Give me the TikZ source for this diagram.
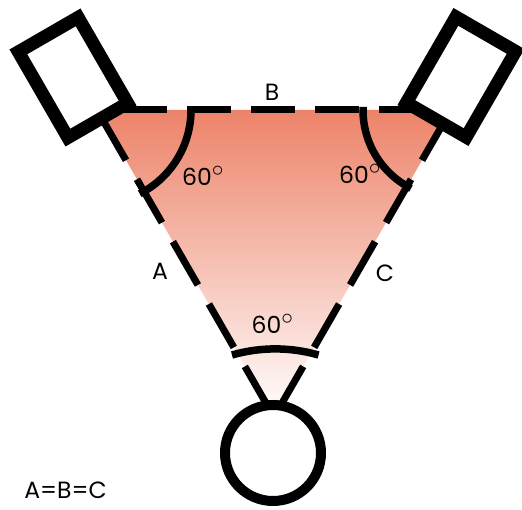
\documentclass[tikz,border=0pt]{standalone}
\usepackage{fontspec}
\setmainfont{Poppins}
\definecolor{warm}{RGB}{237,131,105}
\newcommand{\degsign}{\ensuremath{^{\scalebox{1.35}{$\scriptstyle\circ$}}}}
\begin{document}
\begin{tikzpicture}[
    x=1pt, y=1pt,
    every node/.style={font=\fontsize{23.5}{27}\selectfont, inner sep=0pt},
    side/.style={line width=7pt},
    anglearc/.style={line width=7.5pt},
    speaker/.style={
        draw,
        fill=white,
        line width=13pt,
        minimum width=69pt,
        minimum height=99pt,
    },
    listener/.style={draw, circle, fill=white, line width=10pt, minimum size=96pt}
]

% Canvas
\useasboundingbox (0,0) rectangle (522,510);

% Triangle corners
\coordinate (L) at (97,400);
\coordinate (R) at (451,400);
\coordinate (P) at (274,93);

% --- Shaded listening area ---
\shade[top color=warm, bottom color=white] (L) -- (R) -- (P) -- cycle;

% --- Dashed sides ---
\draw[side, dash pattern=on 44pt off 20pt, dash phase=38pt] (L) -- (R);
\draw[side, dash pattern=on 50pt off 22pt, dash phase=64pt] (L) -- (P);
\draw[side, dash pattern=on 50pt off 22pt, dash phase=64pt] (R) -- (P);

% --- Angle arcs ---
\draw[anglearc] (L) ++(2:94) arc[start angle=2, end angle=-63, radius=94];
\draw[anglearc] (R) ++(178:88) arc[start angle=178, end angle=243, radius=88];
\coordinate (bArc) at (232,155);
\draw[anglearc] (bArc) arc[start angle=106, end angle=74, radius=157];

% --- Speakers and listener ---
\node[speaker, rotate=30] (spkL) at (73,432.5) {};
\node[speaker, rotate=-30] (spkR) at (461,433) {};
\node[listener] (lis) at (273,57) {};

% --- Labels ---
\node (labB) at (272,418) {B};
\node (labA) at (160,238.5) {A};
\node (labC) at (385,237) {C};
\node (angL) at (203,334) {60\degsign};
\node (angR) at (360,336) {60\degsign};
\node (angP) at (272.5,186.5) {60\degsign};
\node (equal) at (65.5,19.5) {A=B=C};

\end{tikzpicture}
\end{document}
